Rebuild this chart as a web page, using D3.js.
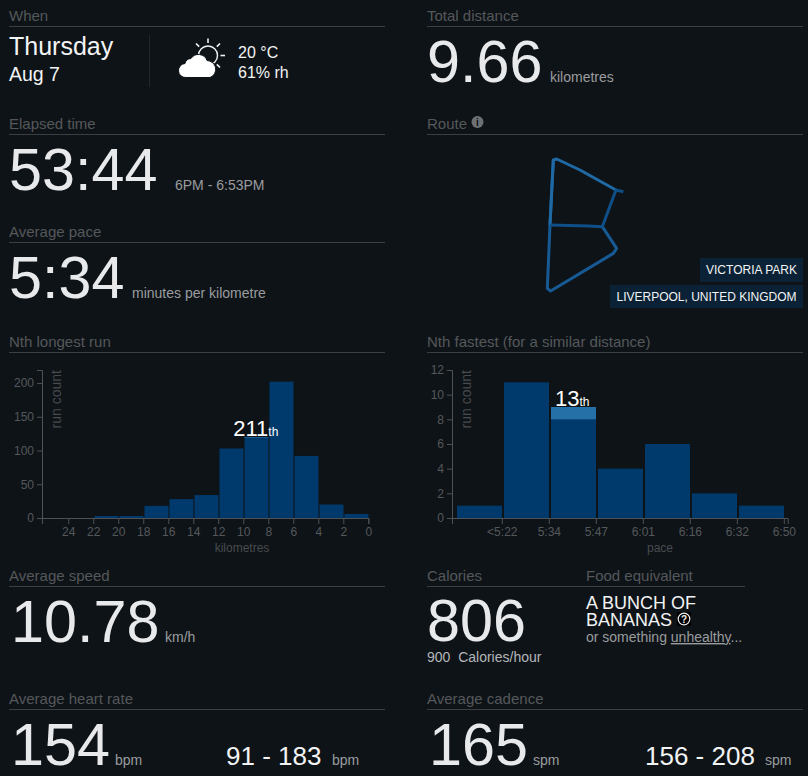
<!DOCTYPE html>
<html>
<head>
<meta charset="utf-8">
<script src="https://cdn.jsdelivr.net/npm/d3@7"></script>
<style>
  html, body { margin: 0; padding: 0; background: #0e1318; overflow: hidden; }
  text { font-family: "Liberation Sans", Arial, sans-serif; }
  .axis text { font-size: 12px; fill: #55585a; font-family: "Liberation Sans", Arial, sans-serif; }
  .axis path, .axis line { stroke: #4f5254; stroke-width: 1px; }
</style>
</head>
<body>
<div id="chart"></div>
<script>
// run count per 2km bin, longest first (bin starts at 24km)
const distanceTicks = [24, 22, 20, 18, 16, 14, 12, 10, 8, 6, 4, 2, 0];
const distanceCounts = [0, 3, 3, 18, 28, 34, 103, 120, 202, 92, 20, 6];
const distanceYTicks = [0, 50, 100, 150, 200];
const distanceHighlightBin = 7;

const paceTicks = ["<5:22", "5:34", "5:47", "6:01", "6:16", "6:32", "6:50"];
const paceCounts = [1, 11, 9, 4, 6, 2, 1];
const paceYTicks = [0, 2, 4, 6, 8, 10, 12];
const paceHighlightBin = 2;

// route legs in map units, east / north
const routeOuterEast = [100, 90, 82, 92, 280, 290, 247];
const routeOuterNorth = [440, 245, 55, 47, 160, 175, 240];
const routeTopEast = [90, 100, 110, 180, 288];
const routeTopNorth = [245, 440, 443, 410, 350];
const routeLinkEast = [310, 288, 247, 205, 90];
const routeLinkNorth = [345, 350, 240, 242, 245];

const bg = "#0e1318";
const barColor = "#003a6d";
const highlightColor = "#2570a6";
const headingColor = "#55585a";
const ruleColor = "#3c3f42";
const bigColor = "#e8e9ea";
const subColor = "#9a9c9e";

const svg = d3.select("#chart").append("svg")
    .attr("width", 808).attr("height", 776)
    .style("display", "block");

function txt(x, y, s, size, color, anchor) {
    return svg.append("text")
        .attr("x", x).attr("y", y)
        .attr("font-size", size)
        .attr("fill", color)
        .attr("text-anchor", anchor || "start")
        .text(s);
}

function heading(x, y, s, x2) {
    txt(x, y - 5.5, s, 15, headingColor);
    svg.append("line")
        .attr("x1", x).attr("x2", x2)
        .attr("y1", y + 0.5).attr("y2", y + 0.5)
        .attr("stroke", ruleColor).attr("stroke-width", 1);
}

// section headings
heading(9, 26, "When", 385);
heading(9, 134, "Elapsed time", 385);
heading(9, 242, "Average pace", 385);
heading(9, 352, "Nth longest run", 385);
heading(9, 586, "Average speed", 385);
heading(9, 709, "Average heart rate", 385);
heading(427, 26, "Total distance", 803);
heading(427, 134, "Route", 803);
heading(427, 352, "Nth fastest (for a similar distance)", 803);
heading(427, 586, "Calories", 745);
txt(586, 580.5, "Food equivalent", 15, headingColor);
heading(427, 709, "Average cadence", 803);

// when block
txt(9, 55, "Thursday", 25, "#f2f3f4");
txt(9, 81, "Aug 7", 19.5, "#f2f3f4");
svg.append("line").attr("x1", 149.5).attr("x2", 149.5).attr("y1", 35).attr("y2", 87)
    .attr("stroke", "#23272b");
txt(238, 57.5, "20 °C", 16, "#f2f3f4");
txt(238, 77.5, "61% rh", 16, "#f2f3f4");

// weather icon
const icon = svg.append("g").attr("transform", "translate(208,55.5)");
icon.append("circle").attr("r", 9.5).attr("fill", "none").attr("stroke", "#f2f3f4").attr("stroke-width", 1.4);
[-90, -45, 0, -135, 45].forEach(a => {
    const c = Math.cos(a * Math.PI / 180), s = Math.sin(a * Math.PI / 180);
    icon.append("line")
        .attr("x1", 12.5 * c).attr("y1", 12.5 * s)
        .attr("x2", 17 * c).attr("y2", 17 * s)
        .attr("stroke", "#f2f3f4").attr("stroke-width", 1.6);
});
svg.append("path")
    .attr("d", "M186 77.5 a7 7 0 0 1 -1 -14 a6.5 6.5 0 0 1 6 -5 a9 9 0 0 1 16 2 a9 8.8 0 0 1 3 17 z")
    .attr("fill", "#fff").attr("stroke", bg).attr("stroke-width", 1);

// big numbers
txt(9, 190, "53:44", 59.3, bigColor);
txt(175, 190, "6PM - 6:53PM", 14, subColor);
txt(9, 297.5, "5:34", 59.3, bigColor);
txt(132, 298, "minutes per kilometre", 14, subColor);
txt(427, 82, "9.66", 59.3, bigColor);
txt(550, 82, "kilometres", 14, subColor);
txt(11, 642, "10.78", 59.3, bigColor);
txt(165, 642, "km/h", 14, subColor);
txt(427, 641, "806", 59.3, bigColor);
txt(427, 662, "900\u00a0\u00a0Calories/hour", 14, "#b4b6b8");
txt(11, 765, "154", 59.3, bigColor);
txt(115, 765, "bpm", 14, subColor);
txt(226, 765, "91 - 183", 26, "#f2f3f4");
txt(332, 765, "bpm", 14, subColor);
txt(429, 765, "165", 59.3, bigColor);
txt(533, 765, "spm", 14, subColor);
txt(645, 765, "156 - 208", 26, "#f2f3f4");
txt(765, 765, "spm", 14, subColor);

// food block
txt(586, 609, "A BUNCH OF", 18, "#f2f3f4");
txt(586, 626, "BANANAS", 18, "#f2f3f4");
svg.append("rect").attr("x", 677).attr("y", 612).attr("width", 14).attr("height", 14).attr("fill", "#000");
svg.append("circle").attr("cx", 684).attr("cy", 619).attr("r", 5.8)
    .attr("fill", "none").attr("stroke", "#eee").attr("stroke-width", 1.2);
txt(684, 622.5, "?", 10, "#eee", "middle").attr("font-weight", "bold");
const unhealthy = txt(586, 642, "or something ", 14, subColor);
unhealthy.append("tspan").attr("text-decoration", "underline").text("unhealthy");
unhealthy.append("tspan").text("...");

// route info icon
svg.append("circle").attr("cx", 477.5).attr("cy", 122).attr("r", 6).attr("fill", "#6e7173");
txt(477.5, 126, "i", 10, bg, "middle").attr("font-weight", "bold");

// route
const routeX = d3.scaleLinear().domain([0, 310]).range([520, 623.3]);
const routeY = d3.scaleLinear().domain([0, 500]).range([306.7, 140]);
const routeLine = d3.line().x(d => routeX(d[0])).y(d => routeY(d[1]));
function routeLeg(east, north, color) {
    svg.append("path")
        .attr("d", routeLine(d3.zip(east, north)))
        .attr("fill", "none")
        .attr("stroke", color)
        .attr("stroke-width", 3)
        .attr("stroke-linejoin", "round");
}
routeLeg(routeOuterEast, routeOuterNorth, "#175a93");
routeLeg(routeTopEast, routeTopNorth, "#1f6aa5");
routeLeg(routeLinkEast, routeLinkNorth, "#0f4f88");

// route labels
svg.append("rect").attr("x", 700).attr("y", 258).attr("width", 103).attr("height", 24).attr("fill", "#0b2135");
svg.append("rect").attr("x", 610).attr("y", 285).attr("width", 193).attr("height", 23).attr("fill", "#0b2135");
txt(751.5, 274, "VICTORIA PARK", 12, "#f2f3f4", "middle");
txt(706.5, 301, "LIVERPOOL, UNITED KINGDOM", 12, "#f2f3f4", "middle");

const chartH = 148;

// distance histogram
{
    const g = svg.append("g").attr("transform", "translate(42,370)");
    const x = d3.scaleLinear().domain([26.1, 0]).range([0, 326.3]);
    const y = d3.scaleLinear().domain([0, 219.3]).range([chartH, 0]);
    const binLeft = i => x(24 - 2 * i) + 1.2;
    const binWidth = x(0) - x(2) - 1;
    g.selectAll("rect.bar").data(distanceCounts).enter().append("rect")
        .attr("class", "bar")
        .attr("x", (d, i) => binLeft(i))
        .attr("width", binWidth)
        .attr("y", d => y(d))
        .attr("height", d => chartH - y(d))
        .attr("fill", barColor);
    g.append("rect")
        .attr("x", binLeft(distanceHighlightBin))
        .attr("width", binWidth)
        .attr("y", y(distanceCounts[distanceHighlightBin]))
        .attr("height", y(0) - y(1))
        .attr("fill", highlightColor);
    g.append("g").attr("class", "axis").attr("transform", `translate(0,${chartH})`)
        .call(d3.axisBottom(x).tickValues(distanceTicks).tickSizeOuter(0).tickSize(6).tickPadding(3.5));
    g.append("g").attr("class", "axis")
        .call(d3.axisLeft(y).tickValues(distanceYTicks).tickSize(5).tickPadding(3));
    g.append("text").attr("transform", "translate(19,0) rotate(-90)")
        .attr("text-anchor", "end").attr("font-size", 14).attr("fill", "#484b4d").text("run count");
    g.append("text").attr("x", 200).attr("y", 182).attr("text-anchor", "middle")
        .attr("font-size", 12).attr("fill", "#484b4d").text("kilometres");
    const rank = g.append("text").attr("x", x(23 - 2 * distanceHighlightBin)).attr("y", y(distanceCounts[distanceHighlightBin]) - 1.5)
        .attr("text-anchor", "middle").attr("font-size", 22).attr("fill", "#fff").text("211");
    rank.append("tspan").attr("font-size", 12).text("th");
}

// pace histogram
{
    const g = svg.append("g").attr("transform", "translate(452,370)");
    const x = d3.scaleLinear().domain([-2.8 / 47, 7 + 3.9 / 47]).range([0, 335.7]);
    const y = d3.scaleLinear().domain([0, 12]).range([chartH, 0]);
    const binLeft = i => x(i) + 2.2;
    const binWidth = x(1) - x(0) - 2;
    g.selectAll("rect.bar").data(paceCounts).enter().append("rect")
        .attr("class", "bar")
        .attr("x", (d, i) => binLeft(i))
        .attr("width", binWidth)
        .attr("y", d => y(d))
        .attr("height", d => chartH - y(d))
        .attr("fill", barColor);
    g.append("rect")
        .attr("x", binLeft(paceHighlightBin))
        .attr("width", binWidth)
        .attr("y", y(paceCounts[paceHighlightBin]))
        .attr("height", y(0) - y(1))
        .attr("fill", highlightColor);
    g.append("g").attr("class", "axis").attr("transform", `translate(0,${chartH})`)
        .call(d3.axisBottom(x).tickValues(paceTicks.map((d, i) => i + 1))
            .tickFormat((d, i) => paceTicks[i]).tickSizeOuter(0).tickSize(6).tickPadding(3.5));
    g.append("g").attr("class", "axis")
        .call(d3.axisLeft(y).tickValues(paceYTicks).tickSize(5).tickPadding(3));
    g.append("text").attr("transform", "translate(19,0) rotate(-90)")
        .attr("text-anchor", "end").attr("font-size", 14).attr("fill", "#484b4d").text("run count");
    g.append("text").attr("x", 208).attr("y", 182).attr("text-anchor", "middle")
        .attr("font-size", 12).attr("fill", "#484b4d").text("pace");
    const rank = g.append("text").attr("x", x(paceHighlightBin + 0.5)).attr("y", y(paceCounts[paceHighlightBin]) - 1)
        .attr("text-anchor", "middle").attr("font-size", 22).attr("fill", "#fff").text("13");
    rank.append("tspan").attr("font-size", 12).text("th");
}
</script>
</body>
</html>
